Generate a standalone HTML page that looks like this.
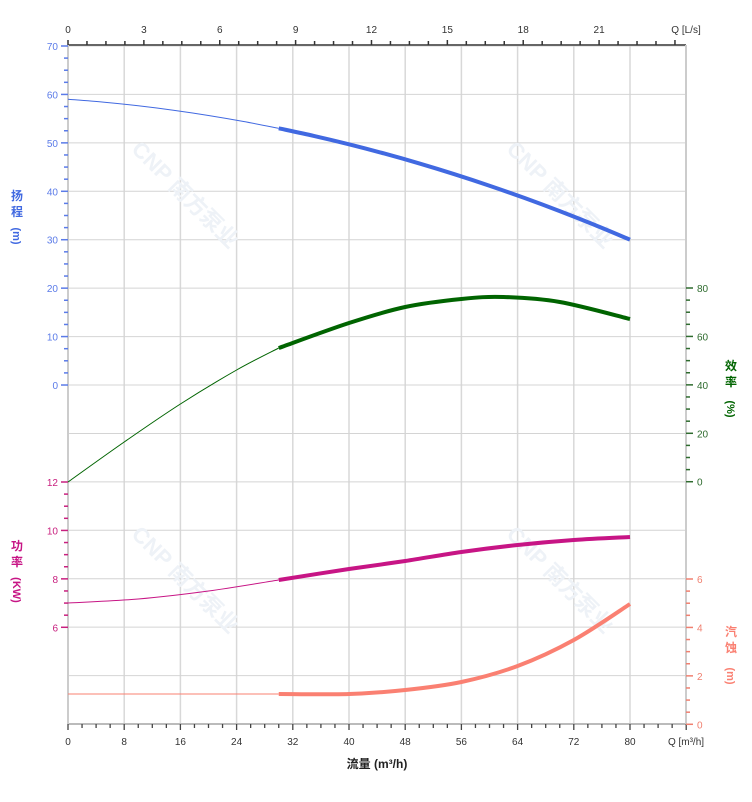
<!DOCTYPE html>
<html><head><meta charset="utf-8"><style>
html,body{margin:0;padding:0;background:#fff;}
svg text{font-family:"Liberation Sans","Noto Sans CJK SC",sans-serif;}
</style></head><body>
<svg id="s" width="752" height="797" xmlns="http://www.w3.org/2000/svg"></svg>
<script>
const s=document.getElementById('s');let h='';
const X=q=>68+q*7.025;
for(let i=0;i<=11;i++){const x=68+i*56.2;h+=`<line x1="${x}" y1="46" x2="${x}" y2="724" stroke="#d8d8d8" stroke-width="1.5"/>`;}
for(let i=0;i<=14;i++){const y=46+i*48.43;h+=`<line x1="68" y1="${y}" x2="686" y2="${y}" stroke="#d4d4d4" stroke-width="1"/>`;}
[[180,200],[555,200],[180,585],[555,585]].forEach(([x,y])=>{h+=`<text x="${x}" y="${y}" transform="rotate(45 ${x} ${y})" text-anchor="middle" font-size="22" font-weight="bold" fill="#eef2f7">CNP 南方泵业</text>`;});
h+=`<line x1="68" y1="45" x2="686" y2="45" stroke="#666" stroke-width="2"/>`;
h+=`<line x1="68" y1="724" x2="686" y2="724" stroke="#bbb" stroke-width="2"/>`;
h+=`<line x1="68" y1="45" x2="68" y2="724" stroke="#ccc" stroke-width="2"/>`;
h+=`<line x1="686" y1="45" x2="686" y2="724" stroke="#ccc" stroke-width="2"/>`;
for(let i=0;i<=32;i++){const q=i*0.75*3.6;const x=X(q);if(x>687)break;const maj=i%4==0;h+=`<line x1="${x}" y1="45" x2="${x}" y2="${maj?40:41}" stroke="#333" stroke-width="1.5"/>`;if(maj&&i*0.75<22)h+=`<text x="${x}" y="33" font-size="10" text-anchor="middle" fill="#333">${i*0.75}</text>`;}
h+=`<text x="686" y="33" font-size="10" text-anchor="middle" fill="#333">Q [L/s]</text>`;
for(let i=0;i<=44;i++){const x=X(i*2);const maj=i%4==0;h+=`<line x1="${x}" y1="724" x2="${x}" y2="${maj?730:728}" stroke="#444" stroke-width="1.3"/>`;if(maj&&i<44)h+=`<text x="${x}" y="745" font-size="10" text-anchor="middle" fill="#333">${i*2}</text>`;}
h+=`<text x="686" y="745" font-size="10" text-anchor="middle" fill="#333">Q [m³/h]</text>`;
const step=48.43;
for(let i=0;i<=28;i++){const y=46+i*step/4;const maj=i%4==0;h+=`<line x1="68" y1="${y}" x2="${maj?61:64}" y2="${y}" stroke="#5b7be8" stroke-width="1.5"/>`;if(maj)h+=`<text x="58" y="${y+4}" font-size="10" text-anchor="end" fill="#5b7be8">${70-i*2.5}</text>`;}
for(let i=0;i<=12;i++){const y=482+i*step/4;if(y>676)break;const maj=i%4==0;h+=`<line x1="68" y1="${y}" x2="${maj?61:64}" y2="${y}" stroke="#c8207f" stroke-width="1.5"/>`;if(maj)h+=`<text x="58" y="${y+4}" font-size="10" text-anchor="end" fill="#c8207f">${12-i/2}</text>`;}
for(let i=0;i<=16;i++){const y=288+i*step/4;const maj=i%4==0;h+=`<line x1="686" y1="${y}" x2="${maj?693:690}" y2="${y}" stroke="#2e6b2e" stroke-width="1.5"/>`;if(maj)h+=`<text x="697" y="${y+4}" font-size="10" fill="#2e6b2e">${80-i*5}</text>`;}
for(let i=0;i<=12;i++){const y=579+i*step/4;const maj=i%4==0;h+=`<line x1="686" y1="${y}" x2="${maj?693:690}" y2="${y}" stroke="#f08070" stroke-width="1.5"/>`;if(maj)h+=`<text x="697" y="${y+4}" font-size="10" fill="#f08070">${6-i/2}</text>`;}
function cr(p){let d=`M${p[0][0]},${p[0][1]}`;for(let i=0;i<p.length-1;i++){const p0=p[i-1]||p[i],p1=p[i],p2=p[i+1],p3=p[i+2]||p2;d+=` C${p1[0]+(p2[0]-p0[0])/6},${p1[1]+(p2[1]-p0[1])/6} ${p2[0]-(p3[0]-p1[0])/6},${p2[1]-(p3[1]-p1[1])/6} ${p2[0]},${p2[1]}`;}return d;}
function draw(pts,col){const a=pts.filter(p=>p[0]<=30),b=pts.filter(p=>p[0]>=30);const m=p=>[X(p[0]),p[1]];
h+=`<path d="${cr(a.map(m))}" fill="none" stroke="${col}" stroke-width="1"/>`;h+=`<path d="${cr(b.map(m))}" fill="none" stroke="${col}" stroke-width="4"/>`;}
const head=[];for(let q=0;q<=80;q+=5){head.push([q,385-(59-0.1025*q-0.00325*q*q)*4.843]);}draw(head,'#4169e1');
draw([[0,482],[8,442],[16,404],[24,370],[30,348],[40,323],[48,307],[56,299],[62,297],[70,302],[80,319]],'#006400');
draw([[0,603],[10,599],[20,591],[30,580],[40,569],[48,561],[56,552],[64,545],[72,540],[80,537]],'#c71585');
draw([[0,694],[15,694],[30,694],[40,694],[48,690],[56,682],[64,666],[72,640],[80,604]],'#fa8072');
function vl(x,y,t,c){h+=`<text x="${x}" y="${y}" font-size="12" font-weight="bold" fill="${c}" text-anchor="middle">${t}</text>`;}
vl(17,200,'扬','#4169e1');vl(17,216,'程','#4169e1');
h+=`<text transform="translate(13,236) rotate(90)" font-size="11" font-weight="bold" fill="#4169e1" text-anchor="middle">(m)</text>`;
vl(17,550,'功','#c71585');vl(17,566,'率','#c71585');
h+=`<text transform="translate(13,590) rotate(90)" font-size="11" font-weight="bold" fill="#c71585" text-anchor="middle">(KW)</text>`;
vl(731,370,'效','#006400');vl(731,386,'率','#006400');
h+=`<text transform="translate(727,409) rotate(90)" font-size="11" font-weight="bold" fill="#006400" text-anchor="middle">(%)</text>`;
vl(731,636,'汽','#fa8072');vl(731,652,'蚀','#fa8072');
h+=`<text transform="translate(727,676) rotate(90)" font-size="11" font-weight="bold" fill="#fa8072" text-anchor="middle">(m)</text>`;
h+=`<text x="377" y="768" font-size="12" font-weight="bold" fill="#222" text-anchor="middle">流量 (m³/h)</text>`;
s.innerHTML=h;
</script>
</body></html>
